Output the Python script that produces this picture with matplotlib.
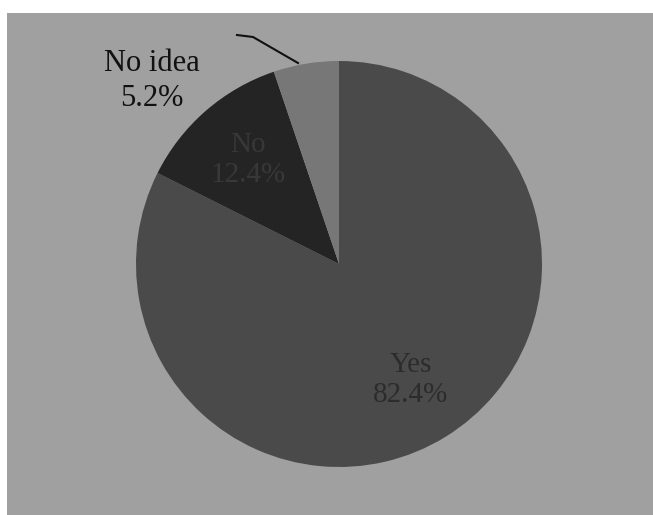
import numpy as np
import matplotlib.pyplot as plt
from matplotlib.patches import Rectangle

# Survey answers
labels = ["Yes", "No", "No idea"]
shares = [82.4, 12.4, 5.2]

W, H = 653, 515
fig = plt.figure(figsize=(W/100, H/100), dpi=100)
fig.patch.set_facecolor("white")
ax = fig.add_axes([0, 0, 1, 1])

# scanned grey page
ax.add_patch(Rectangle((7, 0), W-7, H-13, facecolor="#a0a0a0", edgecolor="none", zorder=0))

cx, cy, r = 339, H-264, 203
wedges, _ = ax.pie(shares, colors=["#4a4a4a", "#242424", "#777777"],
                   startangle=90, counterclock=False, radius=r, center=(cx, cy),
                   wedgeprops=dict(linewidth=0), frame=True)
ax.set_xlim(0, W)
ax.set_ylim(0, H)
ax.set_aspect("auto")
ax.axis("off")

font = ["Liberation Serif", "DejaVu Serif"]
txt = [f"{l}\n{s}%" for l, s in zip(labels, shares)]

# Yes and No labels inside their wedges
for w, t, rr, col in zip(wedges[:2], txt[:2], [0.67, 0.68], ["#2c2c2c", "#383838"]):
    a = np.deg2rad((w.theta1 + w.theta2)/2)
    ax.text(cx + rr*r*np.cos(a), cy + rr*r*np.sin(a), t, ha="center", va="center",
            fontsize=21, family=font, color=col, linespacing=1.2)

# No idea label outside with leader line
ax.text(152, H-81, txt[2], ha="center", va="center", fontsize=22, family=font,
        color="#111111", linespacing=1.3)
ax.plot([237, 253, 298], [H-35, H-37, H-63], color="#111111", lw=1.5)

fig.savefig("out.png", dpi=100)
